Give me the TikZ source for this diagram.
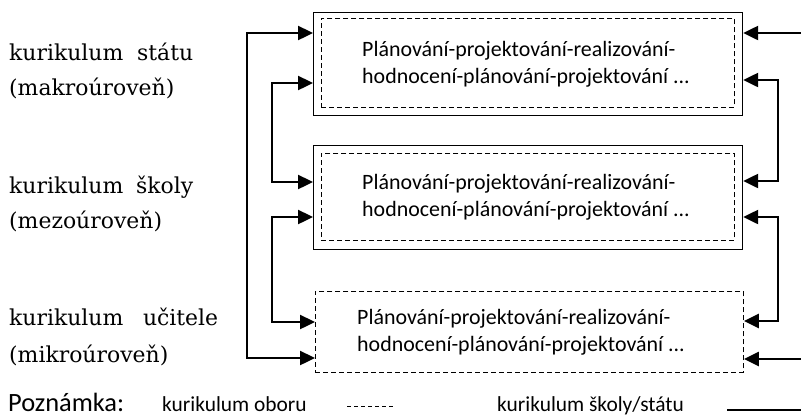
\documentclass[tikz,border=0pt]{standalone}
\usepackage{fontspec}
\setmainfont{DejaVu Serif}
\newfontfamily\calfont{Carlito}
\usetikzlibrary{arrows.meta,calc}
\begin{document}
\begin{tikzpicture}[x=1bp,y=-1bp,
  outerbox/.style={draw,line width=1.2bp,minimum width=429bp,minimum height=103bp,anchor=north west,inner sep=0pt},
  innerbox/.style={draw,dashed,dash pattern=on 5bp off 3bp,line width=0.9bp,anchor=north west,inner sep=0pt},
  boxtext/.style={font=\calfont\fontsize{22}{27}\selectfont,align=left,inner sep=0pt,anchor=west},
  lbl/.style={font=\fontsize{22}{26}\selectfont,anchor=base west,inner sep=0pt},
  legtext/.style={font=\calfont\fontsize{21.5}{24}\selectfont,anchor=base west,inner sep=0pt},
  arr/.style={line width=2.4bp,{Triangle[length=15bp,width=14bp]}-{Triangle[length=15bp,width=14bp]}},
  arrone/.style={line width=2.4bp,-{Triangle[length=15bp,width=14bp]}}
]
\useasboundingbox (0,0) rectangle (801,418);
% boxes
\node[outerbox] (b1) at (313,12) {};
\node[innerbox,minimum width=413bp,minimum height=89bp] (i1) at (321,18) {};
\node[boxtext] (t1) at (b1.center -| 362,0) {Plánování-projektování-realizování-\\hodnocení-plánování-projektování ...};
\node[outerbox,minimum height=104bp] (b2) at (313,145) {};
\node[innerbox,minimum width=413bp,minimum height=87bp] (i2) at (321,153) {};
\node[boxtext] (t2) at (b2.center -| 362,0) {Plánování-projektování-realizování-\\hodnocení-plánování-projektování ...};
\node[innerbox,minimum width=428bp,minimum height=81bp] (b3) at (315,291) {};
\node[boxtext] (t3) at (b3.center -| 357,0) {Plánování-projektování-realizování-\\hodnocení-plánování-projektování ...};
% left labels
\node[lbl] (l1a) at (9,60) {\makebox[184bp]{kurikulum\hfill státu}};
\node[lbl] (l1b) at (9,95) {(makroúroveň)};
\node[lbl] (l2a) at (9,193) {\makebox[184bp]{kurikulum\hfill školy}};
\node[lbl] (l2b) at (9,228) {(mezoúroveň)};
\node[lbl] (l3a) at (9,325) {\makebox[209bp]{kurikulum\hfill učitele}};
\node[lbl] (l3b) at (9,362) {(mikroúroveň)};
% connector end points
\coordinate (L1a) at ($(b1.north west)+(0,21)$);
\coordinate (L1b) at ($(b1.north west)+(0,71)$);
\coordinate (L2a) at ($(b2.north west)+(0,37)$);
\coordinate (L2b) at ($(b2.north west)+(0,72)$);
\coordinate (L3a) at ($(b3.north west)+(0,31)$);
\coordinate (L3b) at ($(b3.north west)+(0,67)$);
\coordinate (R1a) at ($(b1.north east)+(0,21)$);
\coordinate (R1b) at ($(b1.north east)+(0,68)$);
\coordinate (R2a) at ($(b2.north east)+(0,36)$);
\coordinate (R2b) at ($(b2.north east)+(0,72)$);
\coordinate (R3a) at ($(b3.north east)+(0,30)$);
\coordinate (R3b) at ($(b3.north east)+(0,68)$);
\coordinate (E1) at (801,33);
\coordinate (E3) at (801,359);
% left connectors
\draw[arr] (L1a) -- ++(-66,0) |- (L3b);
\draw[arr] (L1b) -- ++(-41,0) |- (L2a);
\draw[arr] (L2b) -- ++(-41,0) |- (L3a);
% right connectors
\draw[arrone] (E1) -- (R1a);
\draw[arr] (R1b) -- ++(35,0) |- (R2a);
\draw[arr] (R2b) -- ++(35,0) |- (R3a);
\draw[arrone] (E3) -- (R3b);
% legend
\node[legtext,font=\calfont\fontsize{26.5}{30}\selectfont] (p) at (8,411) {Poznámka:};
\node[legtext] (k1) at (162,411) {kurikulum oboru};
\coordinate (d1) at (347,406);
\coordinate (d2) at (395,406);
\draw[dashed,dash pattern=on 4bp off 3bp,line width=0.8bp] (d1) -- (d2);
\node[legtext] (k2) at (497,411) {kurikulum školy/státu};
\coordinate (s1) at (727,410);
\coordinate (s2) at (801,410);
\draw[line width=1.6bp] (s1) -- (s2);
\end{tikzpicture}
\end{document}
